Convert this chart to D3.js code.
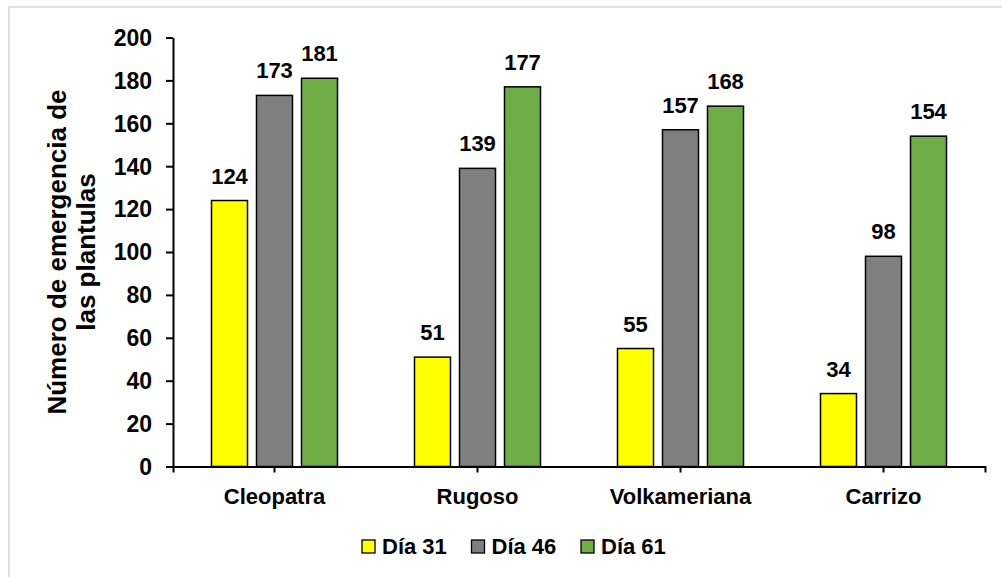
<!DOCTYPE html>
<html>
<head>
<meta charset="utf-8">
<script src="https://cdn.jsdelivr.net/npm/d3@7"></script>
<style>
  html, body { margin: 0; padding: 0; background: #fff; }
  svg text { font-family: "Liberation Sans", Arial, sans-serif; font-weight: bold; fill: #000; }
</style>
</head>
<body>
<svg id="chart" width="1002" height="577"></svg>
<script>
// Seedling emergence per rootstock, counted on three days
const categories = ["Cleopatra", "Rugoso", "Volkameriana", "Carrizo"];
const seriesNames = ["Día 31", "Día 46", "Día 61"];
const dia31 = [124, 51, 55, 34];
const dia46 = [173, 139, 157, 98];
const dia61 = [181, 177, 168, 154];
const seriesColors = ["#ffff00", "#808080", "#70ad47"];
const yTicks = [0, 20, 40, 60, 80, 100, 120, 140, 160, 180, 200];
const yTitleLines = ["Número de emergencia de", "las plantulas"];

const series = [dia31, dia46, dia61];

const svg = d3.select("#chart");

// outer chart frame
svg.append("rect")
  .attr("x", 9).attr("y", 7)
  .attr("width", 1010).attr("height", 600)
  .attr("fill", "#fff")
  .attr("stroke", "#d9d9d9")
  .attr("stroke-width", 1.5);

const plot = { left: 173, right: 985, top: 37.5, bottom: 466.5 };

const x0 = d3.scaleBand().domain(categories).range([plot.left, plot.right]).padding(0);
const x1 = d3.scaleBand().domain(d3.range(series.length))
  .range([38.5, x0.bandwidth() - 38.5]).paddingInner(0.2).paddingOuter(0);
const y = d3.scaleLinear().domain([0, 200]).range([plot.bottom, plot.top]);

// bars
const groups = svg.append("g").selectAll("g")
  .data(categories)
  .join("g")
  .attr("transform", d => `translate(${x0(d)},0)`);

groups.selectAll("rect")
  .data((c, ci) => series.map((s, si) => ({ si, v: s[ci] })))
  .join("rect")
  .attr("x", d => x1(d.si))
  .attr("y", d => y(d.v))
  .attr("width", x1.bandwidth())
  .attr("height", d => y(0) - y(d.v))
  .attr("fill", d => seriesColors[d.si])
  .attr("stroke", "#000")
  .attr("stroke-width", 1.5);

groups.selectAll("text")
  .data((c, ci) => series.map((s, si) => ({ si, v: s[ci] })))
  .join("text")
  .attr("x", d => x1(d.si) + x1.bandwidth() / 2)
  .attr("y", d => y(d.v) - 17)
  .attr("text-anchor", "middle")
  .style("font-size", "22px")
  .text(d => d.v);

// y axis
const yAxis = svg.append("g")
  .attr("transform", `translate(${plot.left},0)`)
  .call(d3.axisLeft(y).tickValues(yTicks).tickSizeInner(7).tickSizeOuter(0).tickPadding(14));
yAxis.select(".domain").attr("stroke", "#000").attr("stroke-width", 2);
yAxis.selectAll(".tick line").attr("stroke", "#000").attr("stroke-width", 2);
yAxis.selectAll(".tick text").style("font-size", "23px").attr("font-family", null).attr("dy", "0.34em");

// x axis
const xAxis = svg.append("g")
  .attr("transform", `translate(0,${plot.bottom})`)
  .call(d3.axisBottom(x0).tickSizeInner(6).tickSizeOuter(6).tickPadding(16));
xAxis.select(".domain").attr("stroke", "#000").attr("stroke-width", 2);
xAxis.selectAll(".tick line").attr("stroke", "#000").attr("stroke-width", 2);
xAxis.selectAll(".tick text").style("font-size", "22px").attr("font-family", null);

// y axis title
const yTitle = svg.append("text")
  .attr("transform", "rotate(-90)")
  .attr("text-anchor", "middle")
  .style("font-size", "26px");
yTitle.selectAll("tspan")
  .data(yTitleLines)
  .join("tspan")
  .attr("x", -252)
  .attr("y", (d, i) => 66 + i * 29)
  .text(d => d);

// legend
const legend = svg.append("g").selectAll("g")
  .data(seriesNames)
  .join("g")
  .attr("transform", (d, i) => `translate(${362 + i * 109.5},540)`);
legend.append("rect")
  .attr("width", 13).attr("height", 13)
  .attr("fill", (d, i) => seriesColors[i])
  .attr("stroke", "#000").attr("stroke-width", 1.3);
legend.append("text")
  .attr("x", 20).attr("y", 14)
  .style("font-size", "22px")
  .text(d => d);
</script>
</body>
</html>
